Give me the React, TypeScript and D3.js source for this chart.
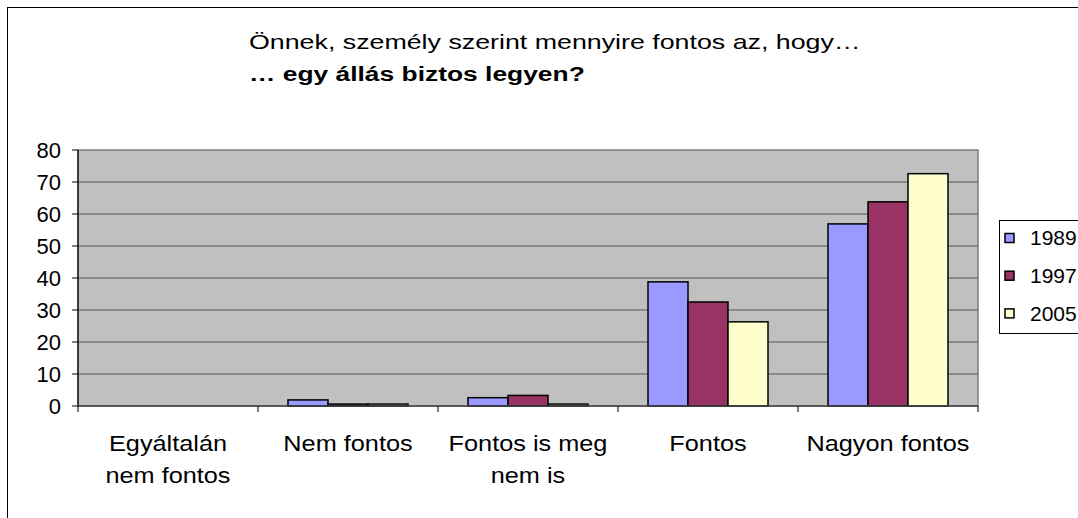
import * as d3 from 'd3'

const categories = ['Egyáltalán nem fontos', 'Nem fontos', 'Fontos is meg nem is', 'Fontos', 'Nagyon fontos']
const categoryLines = [['Egyáltalán', 'nem fontos'], ['Nem fontos'], ['Fontos is meg', 'nem is'], ['Fontos'], ['Nagyon fontos']]
const seriesNames = ['1989', '1997', '2005']
const values1989 = [0, 1.9, 2.6, 38.8, 56.9]
const values1997 = [0, 0.6, 3.3, 32.5, 63.8]
const values2005 = [0, 0.6, 0.6, 26.3, 72.6]
const yTicks = [0, 10, 20, 30, 40, 50, 60, 70, 80]
const colors = ['#9999FF', '#993366', '#FFFFCC']

const titleLine1 = 'Önnek, személy szerint mennyire fontos az, hogy…'
const titleLine2 = '… egy állás biztos legyen?'

export default function App() {
  const width = 1078
  const height = 518
  const plot = { left: 78, right: 978, top: 150, bottom: 406 }
  const font = '"Liberation Sans", Arial, sans-serif'

  const x = d3.scaleBand<string>().domain(categories).range([plot.left, plot.right]).paddingInner(0).paddingOuter(0)
  const inner = d3.scaleBand<string>().domain(seriesNames).range([30, x.bandwidth() - 30]).padding(0)
  const y = d3.scaleLinear().domain([0, 80]).range([plot.bottom, plot.top])

  const series = [values1989, values1997, values2005]

  // stretch text horizontally around an anchor x, like the original export
  const stretch = (cx: number, k: number) => `translate(${cx},0) scale(${k},1) translate(${-cx},0)`

  return (
    <svg width={width} height={height} style={{ position: 'absolute', left: 0, top: 0, background: '#fff' }} fontFamily={font}>
      <rect x={7.5} y={7.5} width={1200} height={600} fill="#fff" stroke="#000" strokeWidth={1} />

      {/* title */}
      <text x={249} y={49} fontSize={20} transform={stretch(249, 1.34)}>{titleLine1}</text>
      <text x={249} y={81} fontSize={20} fontWeight="bold" transform={stretch(249, 1.32)}>{titleLine2}</text>

      {/* plot area */}
      <rect x={plot.left} y={plot.top} width={plot.right - plot.left} height={plot.bottom - plot.top} fill="#C0C0C0" stroke="#808080" strokeWidth={1.5} />
      {yTicks.filter((t) => t > 0 && t < 80).map((t) => (
        <line key={t} x1={plot.left} x2={plot.right} y1={y(t)} y2={y(t)} stroke="#555" strokeWidth={1.2} />
      ))}

      {/* bars */}
      {series.map((vals, si) =>
        vals.map((v, ci) => (
          <rect
            key={`${si}-${ci}`}
            x={(x(categories[ci]) as number) + (inner(seriesNames[si]) as number)}
            y={y(v)}
            width={inner.bandwidth()}
            height={plot.bottom - y(v)}
            fill={colors[si]}
            stroke="#000"
            strokeWidth={1.5}
          />
        ))
      )}

      {/* axes */}
      <line x1={plot.left} x2={plot.left} y1={plot.top} y2={plot.bottom} stroke="#000" strokeWidth={1.2} />
      <line x1={plot.left} x2={plot.right} y1={plot.bottom} y2={plot.bottom} stroke="#444" strokeWidth={1.5} />
      {yTicks.map((t) => (
        <g key={t}>
          <line x1={plot.left - 6} x2={plot.left} y1={y(t)} y2={y(t)} stroke="#000" strokeWidth={1} />
          <text x={61} y={y(t)} dy="0.35em" textAnchor="end" fontSize={22}>{t}</text>
        </g>
      ))}
      {categories.map((c) => (
        <line key={c} x1={x(c) as number} x2={x(c) as number} y1={plot.bottom} y2={plot.bottom + 6} stroke="#000" strokeWidth={1} />
      ))}
      <line x1={plot.right} x2={plot.right} y1={plot.bottom} y2={plot.bottom + 6} stroke="#000" strokeWidth={1} />
      {categories.map((c, i) => {
        const cx = (x(c) as number) + x.bandwidth() / 2
        return (
          <text key={c} x={cx} y={451} textAnchor="middle" fontSize={22} transform={stretch(cx, 1.15)}>
            {categoryLines[i].map((line, li) => (
              <tspan key={li} x={cx} dy={li === 0 ? 0 : 32}>{line}</tspan>
            ))}
          </text>
        )
      })}

      {/* legend */}
      <rect x={999.5} y={220.5} width={100} height={113} fill="#fff" stroke="#000" strokeWidth={1} />
      {seriesNames.map((s, i) => (
        <g key={s} transform={`translate(1005,${238 + i * 37.7})`}>
          <rect x={0} y={-4.5} width={9} height={9} fill={colors[i]} stroke="#000" strokeWidth={1.5} />
          <text x={25} y={0} dy="0.35em" fontSize={21}>{s}</text>
        </g>
      ))}
    </svg>
  )
}
